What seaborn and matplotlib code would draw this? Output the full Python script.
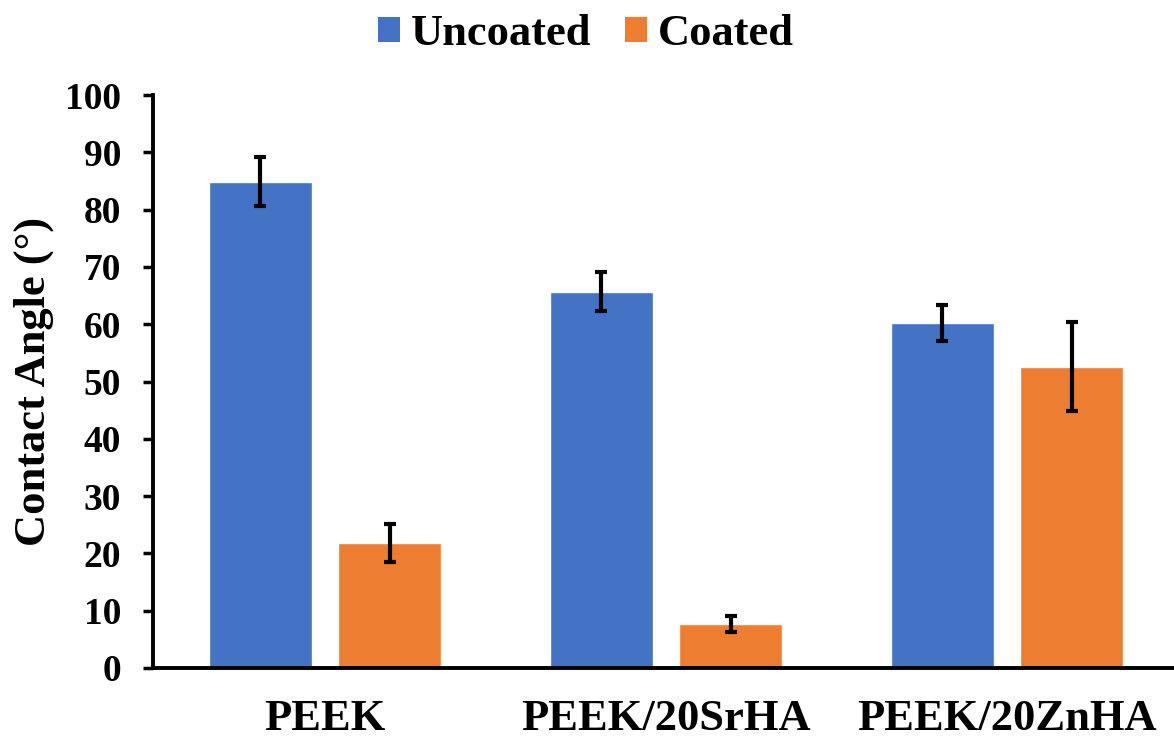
import matplotlib
matplotlib.use("Agg")
import matplotlib.pyplot as plt
import seaborn as sns
import pandas as pd
import numpy as np
from matplotlib.patches import Patch

categories = ["PEEK", "PEEK/20SrHA", "PEEK/20ZnHA"]
series = ["Uncoated", "Coated"]
uncoated = [84.9, 65.7, 60.2]
coated = [21.8, 7.6, 52.6]
uncoated_err = [4.3, 3.4, 3.1]
coated_err = [3.3, 1.4, 7.8]
colors = ["#4472C4", "#ED7D31"]

df = pd.DataFrame({
    "Material": categories * 2,
    "Condition": [series[0]] * 3 + [series[1]] * 3,
    "Angle": uncoated + coated,
})
errs = {series[0]: uncoated_err, series[1]: coated_err}

sns.set_style("white")
plt.rcParams["font.family"] = ["Liberation Serif", "DejaVu Serif"]
plt.rcParams["font.weight"] = "bold"
for k in ["text.color", "axes.labelcolor", "xtick.color", "ytick.color"]:
    plt.rcParams[k] = "black"

fig = plt.figure(figsize=(11.74, 7.4), dpi=100)
ax = fig.add_axes([0.1303, 0.0973, 0.8697, 0.7743])

sns.barplot(data=df, x="Material", y="Angle", hue="Condition",
            hue_order=series, order=categories, palette=colors,
            width=0.76, gap=0.205, errorbar=None, ax=ax, legend=False,
            saturation=1)

# error bars placed on the bar patches
for cont, s in zip(ax.containers, series):
    for patch, e in zip(cont.patches, errs[s]):
        xc = patch.get_x() + patch.get_width() / 2
        ax.errorbar(xc, patch.get_height(), yerr=e, color="black",
                    elinewidth=3, capsize=4.0, capthick=3, zorder=5)

ax.set_ylim(0, 100)
ax.set_xlim(-0.505, 2.49)
ax.set_yticks(np.arange(0, 101, 10))
ax.set_xlabel("")
ax.set_ylabel("Contact Angle (°)", fontsize=32, fontweight="bold", labelpad=8)
for sp in ["top", "right"]:
    ax.spines[sp].set_visible(False)
for sp in ["left", "bottom"]:
    ax.spines[sp].set_linewidth(2.8)
    ax.spines[sp].set_color("black")
ax.tick_params(axis="y", which="major", direction="out", length=7, width=2.5,
               labelsize=27, left=True, pad=16)
ax.tick_params(axis="x", length=0, labelsize=32, pad=22)
for lab in ax.get_xticklabels() + ax.get_yticklabels():
    lab.set_fontweight("bold")

handles = [Patch(facecolor=c, edgecolor="none") for c in colors]
fig.legend(handles, series, loc="upper center", bbox_to_anchor=(0.499, 1.017),
           ncol=2, frameon=False, handlelength=0.5, handleheight=0.5,
           handletextpad=0.25, columnspacing=0.75, borderpad=0.1,
           prop={"weight": "bold", "size": 32})

fig.savefig("out.png", dpi=100)
